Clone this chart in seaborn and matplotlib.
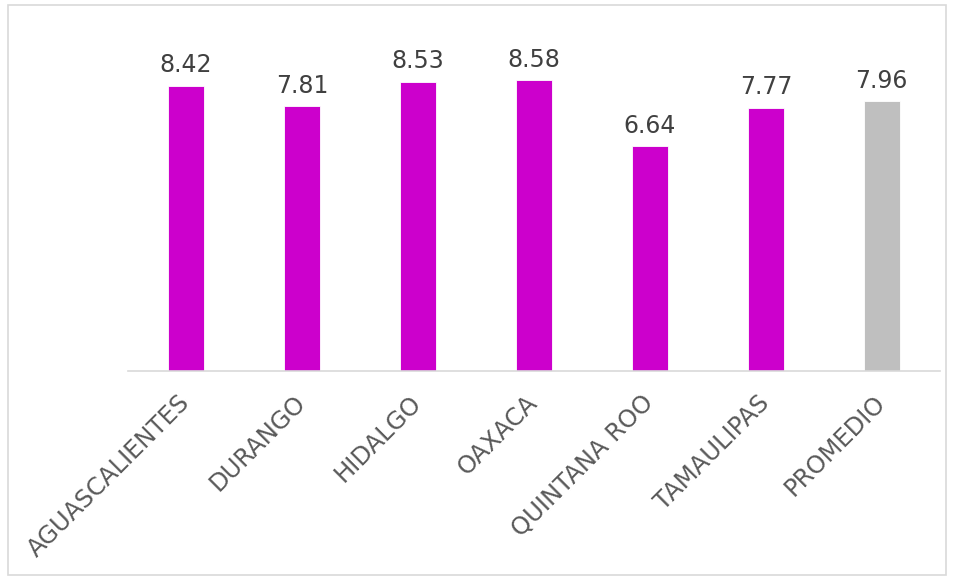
import pandas as pd
import matplotlib.pyplot as plt
import seaborn as sns
from matplotlib.patches import Rectangle

# Data
estados = ["AGUASCALIENTES", "DURANGO", "HIDALGO", "OAXACA",
           "QUINTANA ROO", "TAMAULIPAS", "PROMEDIO"]
valores = [8.42, 7.81, 8.53, 8.58, 6.64, 7.77, 7.96]
colores = ["#CC00CC"] * 6 + ["#BFBFBF"]

df = pd.DataFrame({"estado": estados, "valor": valores})

sns.set_theme(style="white")
plt.rcParams['font.family'] = ['DejaVu Sans']

fig = plt.figure(figsize=(9.56, 5.8), dpi=100)
ax = fig.add_axes([0.134, 0.36, 0.849, 0.585])

sns.barplot(data=df, x="estado", y="valor", hue="estado",
            palette=colores, saturation=1, width=0.31, legend=False, ax=ax,
            edgecolor="white", linewidth=0.6)

# value labels on top of bars
for cont in ax.containers:
    ax.bar_label(cont, fmt="%.2f", padding=6, fontsize=17, color="#404040")

ax.set_ylim(0, 10)
ax.set_xlim(-0.5, len(estados) - 0.5)
ax.set_xlabel("")
ax.set_ylabel("")
ax.set_yticks([])
ax.tick_params(axis="x", length=0, pad=20)
plt.setp(ax.get_xticklabels(), rotation=45, ha="right", va="center",
         rotation_mode="anchor", fontsize=17.5, color="#595959")

for side in ["top", "right", "left"]:
    ax.spines[side].set_visible(False)
ax.spines["bottom"].set_color("#D9D9D9")
ax.spines["bottom"].set_linewidth(1.2)

# outer chart border
fig.patches.append(Rectangle((8 / 956, 5 / 580), 938 / 956, 570 / 580,
                             transform=fig.transFigure, fill=False,
                             edgecolor="#D9D9D9", linewidth=1.2))

plt.savefig("out.png", dpi=100)
plt.close()
